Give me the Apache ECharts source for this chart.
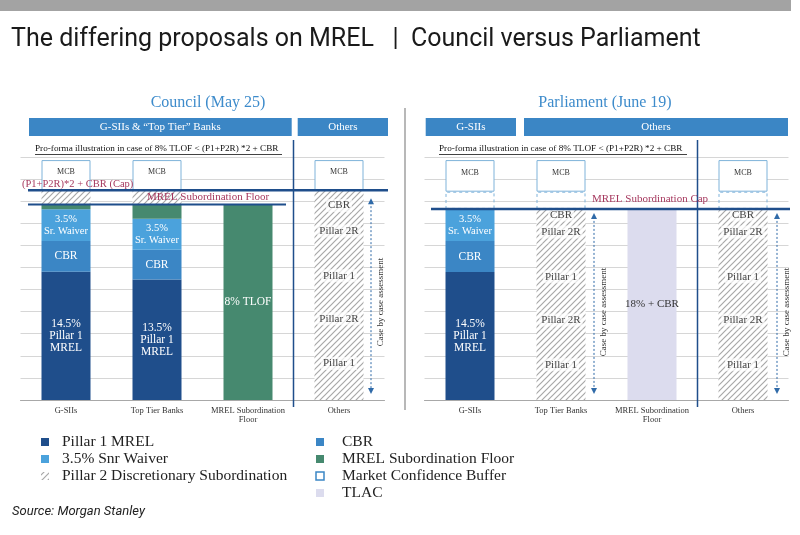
<!DOCTYPE html>
<html>
<head>
<meta charset="utf-8">
<script src="https://cdn.jsdelivr.net/npm/echarts@6/dist/echarts.min.js"></script>
<style>
  html, body { margin: 0; padding: 0; background: #fff; }
  #chart { width: 800px; height: 535px; }
</style>
</head>
<body>
<div id="chart"></div>
<script>
// categories shared by both panels
const categories = ['G-SIIs', 'Top Tier Banks', 'MREL Subordination\nFloor', 'Others'];

// Council (May 25) – stacked segments, same order bottom to top
const councilPillar1 = [5.8, 5.45, null, null];
const councilCBR = [1.4, 1.35, null, null];
const councilWaiver = [1.43, 1.4, null, null];
const councilFloor = [0.22, 0.65, 8.85, null];
const councilP2Sub = [0.65, 0.65, null, null];
const councilOthers = [3.3, 0.75, 3.15, 0.9, 1.4];   // Others column, case by case
const councilMCB = [1.36, 1.36, null, 1.36];
const councilCap = 9.5;
const councilFloorLine = 8.85;

// Parliament (June 19)
const parlPillar1 = [5.79, null, null, null];
const parlCBR = [1.41, null, null, null];
const parlWaiver = [1.45, null, null, null];
const parlTLAC = [null, null, 8.65, null];
const parlCase = [3.2, 0.85, 3.05, 1.0, 0.55];        // Top Tier Banks & Others
const parlGap = [0.78, 0.78, null, 0.78];
const parlMCB = [1.43, 1.43, null, 1.43];
const parlCap = 8.65;

const caseLabels = ['Pillar 1', 'Pillar 2R', 'Pillar 1', 'Pillar 2R', 'CBR'];
const pillar1Labels = ['14.5%\nPillar 1\nMREL', '13.5%\nPillar 1\nMREL'];

const legendLeft = ['Pillar 1 MREL', '3.5% Snr Waiver', 'Pillar 2 Discretionary Subordination'];
const legendRight = ['CBR', 'MREL Subordination Floor', 'Market Confidence Buffer', 'TLAC'];

const serif = 'Liberation Serif, DejaVu Serif, serif';
const C = {
  p1: '#1f4e8b', cbr: '#3b86c5', waiver: '#4ba2dc', floor: '#46896f',
  tlac: '#dcdcee', mcb: '#7fb3da', line: '#1f4e8b', maroon: '#a6385e', header: '#3b86c5'
};

// hatch pattern for Pillar 2 discretionary subordination
const hatch = document.createElement('canvas');
hatch.width = hatch.height = 6;
const hc = hatch.getContext('2d');
hc.fillStyle = '#fff';
hc.fillRect(0, 0, 6, 6);
hc.strokeStyle = '#a8a8a8';
hc.lineWidth = 1.2;
hc.beginPath();
hc.moveTo(0, 6); hc.lineTo(6, 0);
hc.moveTo(-1, 1); hc.lineTo(1, -1);
hc.moveTo(5, 7); hc.lineTo(7, 5);
hc.stroke();
const hatchFill = { image: hatch, repeat: 'repeat' };

function seg(name, gi, data, itemStyle, label) {
  return {
    name, type: 'bar', xAxisIndex: gi, yAxisIndex: gi, stack: 'panel' + gi,
    barWidth: 49, data, itemStyle, silent: true,
    label: Object.assign({ show: !!label, position: 'inside', fontFamily: serif, color: '#fff', fontSize: 11 }, label || {})
  };
}

const caseLabel = (k) => ({
  formatter: caseLabels[k], color: '#444', fontSize: 11,
  backgroundColor: 'rgba(255,255,255,0.7)', padding: [1, 2]
});
const mcbStyle = { color: '#fff', borderColor: C.mcb, borderWidth: 1 };
const mcbLabel = { formatter: 'MCB', color: '#333', fontSize: 8, offset: [0, -3] };
const p1Label = { formatter: p => pillar1Labels[p.dataIndex], fontSize: 11.5, lineHeight: 12 };
const waiverLabel = { formatter: '3.5%\nSr. Waiver', fontSize: 10.5, lineHeight: 12 };

const series = [
  seg('Pillar 1 MREL', 0, councilPillar1, { color: C.p1 }, p1Label),
  seg('CBR', 0, councilCBR, { color: C.cbr }, { formatter: 'CBR', fontSize: 11.5 }),
  seg('3.5% Snr Waiver', 0, councilWaiver, { color: C.waiver }, waiverLabel),
  seg('MREL Subordination Floor', 0, councilFloor, { color: C.floor },
    { formatter: p => p.dataIndex === 2 ? '8% TLOF' : '', fontSize: 11.5 }),
  seg('Pillar 2 Discretionary Subordination', 0, councilP2Sub, { color: hatchFill })
];
councilOthers.forEach((v, k) => {
  series.push(seg('Pillar 2 Discretionary Subordination', 0, [null, null, null, v], { color: hatchFill }, caseLabel(k)));
});
series.push(seg('Market Confidence Buffer', 0, councilMCB, mcbStyle, mcbLabel));

series.push(
  seg('Pillar 1 MREL', 1, parlPillar1, { color: C.p1 }, p1Label),
  seg('CBR', 1, parlCBR, { color: C.cbr }, { formatter: 'CBR', fontSize: 11.5 }),
  seg('3.5% Snr Waiver', 1, parlWaiver, { color: C.waiver }, waiverLabel),
  seg('TLAC', 1, parlTLAC, { color: C.tlac }, { formatter: '18% + CBR', color: '#333', fontSize: 11 })
);
parlCase.forEach((v, k) => {
  series.push(seg('Pillar 2 Discretionary Subordination', 1, [null, v, null, v], { color: hatchFill }, caseLabel(k)));
});
series.push(
  seg('gap', 1, parlGap, { color: 'rgba(0,0,0,0)', borderColor: C.mcb, borderWidth: 1, borderType: [3, 3] }),
  seg('Market Confidence Buffer', 1, parlMCB, mcbStyle, mcbLabel)
);

const xAxisBase = {
  type: 'category', data: categories,
  axisLine: { lineStyle: { color: '#a8a8a8' } },
  axisTick: { show: false },
  axisLabel: { interval: 0, fontFamily: serif, fontSize: 8.5, color: '#333', lineHeight: 9, margin: 6 }
};
const yAxisBase = {
  type: 'value', min: 0, max: 11, interval: 1,
  axisLabel: { show: false }, axisLine: { show: false }, axisTick: { show: false },
  splitLine: { lineStyle: { color: '#d6d6d6', width: 1 } }
};

const chart = echarts.init(document.getElementById('chart'));
chart.setOption({
  animation: false,
  grid: [
    { left: 20.5, width: 364, top: 157, height: 243 },
    { left: 424.5, width: 364, top: 157, height: 243 }
  ],
  xAxis: [Object.assign({ gridIndex: 0 }, xAxisBase), Object.assign({ gridIndex: 1 }, xAxisBase)],
  yAxis: [Object.assign({ gridIndex: 0 }, yAxisBase), Object.assign({ gridIndex: 1 }, yAxisBase)],
  series
});

// annotations positioned from the axes
const px = (gi, x, y) => chart.convertToPixel({ gridIndex: gi }, [x, y]);
const yCapL = px(0, 0, councilCap)[1];
const yFloorL = px(0, 0, councilFloorLine)[1];
const yCapR = px(1, 0, parlCap)[1];
const yBase = px(0, 0, 0)[1];
const sepL = (px(0, 2, 0)[0] + px(0, 3, 0)[0]) / 2;
const sepR = (px(1, 2, 0)[0] + px(1, 3, 0)[0]) / 2;

const g = [];
const line = (x1, y1, x2, y2, stroke, lineWidth, lineDash) =>
  g.push({ type: 'line', shape: { x1, y1, x2, y2 }, style: { stroke, lineWidth, lineDash }, z: 50 });
const text = (x, y, t, opts) =>
  g.push({ type: 'text', x, y, z: 60, style: Object.assign({ text: t, fontFamily: serif, fill: '#222', verticalAlign: 'middle' }, opts) });

// top bar and title
g.push({ type: 'rect', shape: { x: 0, y: 0, width: 791, height: 11 }, style: { fill: '#a3a3a3' } });
text(11, 40, 'The differing proposals on MREL   |  Council versus Parliament',
  { fontFamily: 'Roboto, sans-serif', fontSize: 25, fill: '#1a1a1a' });

// panel separator
g.push({ type: 'rect', shape: { x: 404, y: 108, width: 2, height: 302 }, style: { fill: '#b8b8b8' } });

// panel titles
text(208, 103, 'Council (May 25)', { fontSize: 16, fill: '#3d8bcb', align: 'center' });
text(605, 103, 'Parliament (June 19)', { fontSize: 16, fill: '#3d8bcb', align: 'center' });

// header bands
[[29, 262.7, 'G-SIIs & \u201cTop Tier\u201d Banks'], [297.7, 90.3, 'Others'],
 [425.7, 90.3, 'G-SIIs'], [524, 264, 'Others']].forEach(([x, w, t]) => {
  g.push({ type: 'rect', shape: { x, y: 118, width: w, height: 18 }, style: { fill: C.header }, z: 40 });
  text(x + w / 2, 127, t, { fontSize: 11, fill: '#fff', align: 'center' });
});

// pro-forma notes
[[35, 247], [439, 248]].forEach(([x, w]) => {
  text(x, 149, 'Pro-forma illustration in case of 8% TLOF < (P1+P2R) *2 + CBR', { fontSize: 9.2, fill: '#111' });
  line(x, 154.5, x + w, 154.5, '#111', 0.8);
});

// vertical separators
line(sepL, 140, sepL, 407, C.line, 1.5);
line(sepR, 140, sepR, 407, C.line, 1.5);

// cap / floor lines
line(28, yCapL, 388, yCapL, C.line, 2.5);
line(28, yFloorL, 286, yFloorL, C.line, 2);
line(431, yCapR, 790, yCapR, C.line, 2.5);
text(22, 184, '(P1+P2R)*2 + CBR (Cap)', { fontSize: 10.5, fill: C.maroon });
text(147, 197, 'MREL Subordination Floor', { fontSize: 11, fill: C.maroon });
text(592, 199, 'MREL Subordination Cap', { fontSize: 11, fill: C.maroon });

// case by case arrows
function caseArrow(x, y1, y2, ty) {
  line(x, y1 + 4, x, y2 - 4, '#2f6aa8', 1, [2, 2]);
  g.push({ type: 'polygon', shape: { points: [[x - 3, y1 + 6], [x + 3, y1 + 6], [x, y1]] }, style: { fill: '#2f6aa8' }, z: 55 });
  g.push({ type: 'polygon', shape: { points: [[x - 3, y2 - 6], [x + 3, y2 - 6], [x, y2]] }, style: { fill: '#2f6aa8' }, z: 55 });
  g.push({ type: 'text', x: x + 10, y: ty, rotation: Math.PI / 2, z: 60,
    style: { text: 'Case by case assessment', fontFamily: serif, fontSize: 9, fill: '#333', align: 'center', verticalAlign: 'middle' } });
}
caseArrow(px(0, 3, 0)[0] + 32, yCapL + 8, yBase - 6, 302);
caseArrow(px(1, 1, 0)[0] + 33, yCapR + 4, yBase - 6, 312);
caseArrow(px(1, 3, 0)[0] + 34, yCapR + 4, yBase - 6, 312);

// legend
const legendStyle = {
  'Pillar 1 MREL': { fill: C.p1 },
  '3.5% Snr Waiver': { fill: C.waiver },
  'Pillar 2 Discretionary Subordination': { fill: hatchFill },
  'CBR': { fill: C.cbr },
  'MREL Subordination Floor': { fill: C.floor },
  'Market Confidence Buffer': { fill: '#fff', stroke: '#3b86c5', lineWidth: 1.5 },
  'TLAC': { fill: C.tlac }
};
[[legendLeft, 41, 62], [legendRight, 316, 342]].forEach(([items, xi, xt]) => {
  items.forEach((name, i) => {
    const y = 442 + i * 17;
    g.push({ type: 'rect', shape: { x: xi, y: y - 4, width: 8, height: 8 }, style: legendStyle[name] });
    text(xt, y, name, { fontSize: 15.5, fill: '#222' });
  });
});

text(12, 512, 'Source: Morgan Stanley', { fontFamily: 'Roboto, sans-serif', fontStyle: 'italic', fontSize: 13, fill: '#222' });

chart.setOption({ graphic: g });
</script>
</body>
</html>
